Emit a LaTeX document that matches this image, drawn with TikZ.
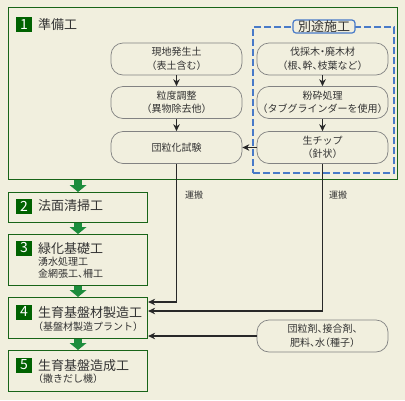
\documentclass[tikz,border=0pt]{standalone}
\usepackage{fontspec}
\newfontfamily\jp{Noto Sans CJK JP}[CharacterWidth=AlternateHalf]
\usetikzlibrary{arrows.meta}
\definecolor{cream}{RGB}{241,239,222}
\definecolor{boxgreen}{RGB}{24,100,24}
\definecolor{numgreen}{RGB}{0,98,0}
\definecolor{arrgreen}{RGB}{28,140,60}
\definecolor{dashblue}{RGB}{72,122,200}
\definecolor{nodegray}{RGB}{130,130,130}
\definecolor{txt}{RGB}{51,51,51}
\definecolor{linek}{RGB}{40,40,40}
\begin{document}
\begin{tikzpicture}[x=1pt,y=-1pt,font=\jp,
  gbox/.style={draw=boxgreen,line width=1.1pt,anchor=north west,inner sep=0pt},
  rnode/.style={draw=nodegray,line width=0.7pt,rounded corners=12pt,minimum width=131pt,minimum height=32pt,inner sep=0pt,align=center,text=txt,font=\jp\fontsize{10}{13.5}\selectfont},
  numsq/.style={fill=numgreen,minimum width=16pt,minimum height=15pt,inner sep=0pt,text=white,font=\jp\fontsize{14}{14}\selectfont},
  title/.style={anchor=west,inner sep=0pt,text=txt,font=\jp\fontsize{13}{13}\selectfont},
  sub/.style={anchor=west,inner sep=0pt,text=txt,font=\jp\fontsize{10}{10}\selectfont},
  carry/.style={inner sep=0pt,text=txt,font=\jp\fontsize{9}{9}\selectfont},
  garr/.style={draw=arrgreen,line width=8pt,-{Triangle[length=7pt,width=17pt,line width=0pt]}},
  arr/.style={draw=linek,line width=1.1pt,-{Stealth[length=7pt,width=6.5pt]}},
  dashbox/.style={draw=dashblue,line width=2pt,dash pattern=on 7pt off 3pt,anchor=north west,inner sep=0pt},
  lbl/.style={draw=dashblue,fill=cream,line width=1.2pt,rounded corners=3pt,minimum width=62pt,minimum height=13pt,inner sep=0pt,text=txt,font=\jp\fontsize{13}{13}\selectfont}
]
\fill[cream] (0,0) rectangle (405,400);
\useasboundingbox (0,0) rectangle (405,400);

% green boxes
\node[gbox,minimum width=389pt,minimum height=172pt] (B1) at (8,7) {};
\node[gbox,minimum width=139pt,minimum height=30pt] (B2) at (8,192) {};
\node[gbox,minimum width=139pt,minimum height=51pt] (B3) at (8,234) {};
\node[gbox,minimum width=139pt,minimum height=41pt] (B4) at (8,297) {};
\node[gbox,minimum width=139pt,minimum height=41pt] (B5) at (8,350) {};

% titles
\node[numsq] (n1) at (24,24.5) {1};
\node[title] (t1) at (38,24.5) {準備工};
\node[numsq] (n2) at (24,206) {2};
\node[title] (t2) at (38,206) {法面清掃工};
\node[numsq] (n3) at (24,248) {3};
\node[title] (t3) at (38,248.5) {緑化基礎工};
\node[sub] (s3a) at (38,262) {湧水処理工};
\node[sub] (s3b) at (38,273.5) {金網張工、柵工};
\node[numsq] (n4) at (24,312) {4};
\node[title] (t4) at (38,312.5) {生育基盤材製造工};
\node[sub] (s4) at (38,327) {（基盤材製造プラント）};
\node[numsq] (n5) at (24,365) {5};
\node[title] (t5) at (38,365.5) {生育基盤造成工};
\node[sub] (s5) at (38,379) {（撒きだし機）};

% green arrows
\draw[garr] (B1.south -| B2.north) -- (B2.north);
\draw[garr] (B2.south) -- (B3.north);
\draw[garr] (B3.south) -- (B4.north);
\draw[garr] (B4.south) -- (B5.north);

% separate works dashed box
\node[dashbox,minimum width=141pt,minimum height=146pt] (D) at (252,26) {};
\node[lbl] (DL) at (324,26.5) {別途施工};

% rounded nodes
\node[rnode] (L1) at (176.5,59) {現地発生土\\（表土含む）};
\node[rnode] (L2) at (176.5,102.5) {粒度調整\\（異物除去他）};
\node[rnode] (L3) at (176.5,147.5) {団粒化試験};
\node[rnode] (R1) at (322.5,59) {伐採木・廃木材\\（根、幹、枝葉など）};
\node[rnode] (R2) at (322.5,102.5) {粉砕処理\\（タブグラインダーを使用）};
\node[rnode] (R3) at (322.5,147.5) {生チップ\\（針状）};
\node[rnode] (M) at (322.5,336) {団粒剤、接合剤、\\肥料、水（種子）};

% black arrows
\draw[arr] (L1) -- (L2);
\draw[arr] (L2) -- (L3);
\draw[arr] (R1) -- (R2);
\draw[arr] (R2) -- (R3);
\draw[arr] (R3) -- (L3);
\draw[arr] (L3.south) |- ([yshift=-5pt]B4.north east);
\draw[arr] (R3.south) |- ([yshift=-14pt]B4.north east);
\draw[arr] (M.west) -- (M.west -| B4.east);

\node[carry] (c1) at (194,195) {運搬};
\node[carry] (c2) at (338,195) {運搬};
\end{tikzpicture}
\end{document}
